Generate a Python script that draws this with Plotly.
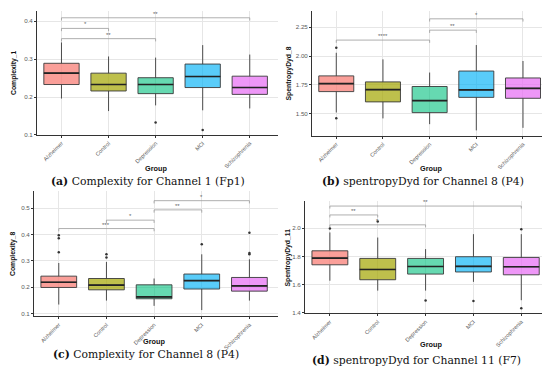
import plotly.graph_objects as go

groups = ["Alzheimer", "Control", "Depression", "MCI", "Schizophrenia"]
fill_colors = ["rgba(248,118,109,0.7)", "rgba(163,165,0,0.7)", "rgba(0,191,125,0.6)",
               "rgba(0,176,246,0.65)", "rgba(231,107,243,0.7)"]

# Panel (a) Complexity_1
a_low = [0.196, 0.163, 0.178, 0.165, 0.170]
a_q1 = [0.233, 0.216, 0.209, 0.225, 0.207]
a_med = [0.263, 0.233, 0.233, 0.254, 0.225]
a_q3 = [0.289, 0.263, 0.251, 0.287, 0.255]
a_high = [0.344, 0.307, 0.304, 0.337, 0.312]
a_out_g = [2, 3]
a_out_v = [0.133, 0.113]
a_br_from = [0, 0, 0]
a_br_to = [1, 2, 4]
a_br_y = [0.381, 0.354, 0.409]
a_br_lab = ["*", "**", "**"]

# Panel (b) spentropyDyd_8
b_low = [1.511, 1.460, 1.410, 1.356, 1.378]
b_q1 = [1.692, 1.603, 1.510, 1.642, 1.634]
b_med = [1.761, 1.709, 1.614, 1.707, 1.720]
b_q3 = [1.828, 1.776, 1.736, 1.870, 1.810]
b_high = [2.028, 1.971, 1.857, 2.095, 1.957]
b_out_g = [0, 0]
b_out_v = [2.072, 1.462]
b_br_from = [0, 2, 2]
b_br_to = [2, 3, 4]
b_br_y = [2.138, 2.224, 2.322]
b_br_lab = ["****", "**", "*"]

# Panel (c) Complexity_8
c_low = [0.134, 0.149, 0.129, 0.113, 0.149]
c_q1 = [0.199, 0.190, 0.156, 0.193, 0.185]
c_med = [0.219, 0.208, 0.163, 0.225, 0.205]
c_q3 = [0.242, 0.233, 0.209, 0.250, 0.237]
c_high = [0.292, 0.296, 0.233, 0.325, 0.306]
c_out_g = [0, 0, 0, 1, 1, 3, 4, 4, 4]
c_out_v = [0.398, 0.386, 0.333, 0.325, 0.313, 0.363, 0.325, 0.330, 0.407]
c_br_from = [0, 1, 2, 2]
c_br_to = [2, 2, 3, 4]
c_br_y = [0.423, 0.455, 0.494, 0.529]
c_br_lab = ["***", "*", "**", "*"]

# Panel (d) spentropyDyd_11
d_low = [1.628, 1.558, 1.558, 1.620, 1.490]
d_q1 = [1.741, 1.635, 1.675, 1.690, 1.670]
d_med = [1.788, 1.708, 1.729, 1.730, 1.727]
d_q3 = [1.840, 1.786, 1.786, 1.798, 1.793]
d_high = [1.970, 1.934, 1.852, 1.958, 1.958]
d_out_g = [0, 1, 2, 3, 4, 4]
d_out_v = [1.998, 2.047, 1.488, 1.484, 1.993, 1.433]
d_br_from = [0, 0, 0]
d_br_to = [1, 2, 4]
d_br_y = [2.094, 2.024, 2.157]
d_br_lab = ["**", "*", "**"]

panels = [
    dict(low=a_low, q1=a_q1, med=a_med, q3=a_q3, high=a_high, og=a_out_g, ov=a_out_v,
         bf=a_br_from, bt=a_br_to, by=a_br_y, bl=a_br_lab,
         ytitle="Complexity_1", yrange=[0.1, 0.427], ytick=[0.1, 0.2, 0.3, 0.4], yfmt=".1f",
         xdom=[29, 270], ydom=[3, 128], ytx=6, gx=148, gy=162,
         cap="(a)", captxt=" Complexity for Channel 1 (Fp1)", capx=140, capy=175),
    dict(low=b_low, q1=b_q1, med=b_med, q3=b_q3, high=b_high, og=b_out_g, ov=b_out_v,
         bf=b_br_from, bt=b_br_to, by=b_br_y, bl=b_br_lab,
         ytitle="SpentropyDyd_8", yrange=[1.308, 2.39], ytick=[1.5, 1.75, 2.0, 2.25], yfmt=".2f",
         xdom=[304, 543], ydom=[3, 129], ytx=281, gx=423, gy=162,
         cap="(b)", captxt=" spentropyDyd for Channel 8 (P4)", capx=415, capy=175),
    dict(low=c_low, q1=c_q1, med=c_med, q3=c_q3, high=c_high, og=c_out_g, ov=c_out_v,
         bf=c_br_from, bt=c_br_to, by=c_br_y, bl=c_br_lab,
         ytitle="Complexity_8", yrange=[0.0887, 0.564], ytick=[0.1, 0.2, 0.3, 0.4, 0.5], yfmt=".1f",
         xdom=[26, 270], ydom=[185, 311], ytx=5, gx=146, gy=336,
         cap="(c)", captxt=" Complexity for Channel 8 (P4)", capx=138, capy=349),
    dict(low=d_low, q1=d_q1, med=d_med, q3=d_q3, high=d_high, og=d_out_g, ov=d_out_v,
         bf=d_br_from, bt=d_br_to, by=d_br_y, bl=d_br_lab,
         ytitle="SpentropyDyd_11", yrange=[1.396, 2.19], ytick=[1.4, 1.6, 1.8, 2.0], yfmt=".1f",
         xdom=[297, 542], ydom=[195, 308], ytx=280, gx=423, gy=339,
         cap="(d)", captxt=" spentropyDyd for Channel 11 (F7)", capx=408, capy=355),
]

W, H = 550, 366
fig = go.Figure()
shapes = []
annotations = []
BW = 0.75
for k, p in enumerate(panels):
    sfx = "" if k == 0 else str(k + 1)
    xa, ya = "x" + sfx, "y" + sfx
    for i, g in enumerate(groups):
        fig.add_trace(go.Box(
            x=[i], q1=[p["q1"][i]], median=[p["med"][i]], q3=[p["q3"][i]],
            lowerfence=[p["low"][i]], upperfence=[p["high"][i]],
            width=BW, whiskerwidth=0, fillcolor=fill_colors[i],
            line=dict(color="#3a3a3a", width=0.9), boxpoints=False,
            name=g, showlegend=False, hoverinfo="skip", xaxis=xa, yaxis=ya))
        fig.add_trace(go.Scatter(
            x=[i - BW / 2, i + BW / 2], y=[p["med"][i], p["med"][i]], mode="lines",
            line=dict(color="#222222", width=1.6), showlegend=False, hoverinfo="skip",
            xaxis=xa, yaxis=ya))
    fig.add_trace(go.Scatter(
        x=p["og"], y=p["ov"], mode="markers",
        marker=dict(color="#333333", size=2.5), showlegend=False, hoverinfo="skip",
        xaxis=xa, yaxis=ya))
    span = p["yrange"][1] - p["yrange"][0]
    tick = span * 0.022
    for f, t, yv, lab in zip(p["bf"], p["bt"], p["by"], p["bl"]):
        for (x0, x1, y0, y1) in [(f, t, yv, yv), (f, f, yv, yv - tick), (t, t, yv, yv - tick)]:
            shapes.append(dict(type="line", xref=xa, yref=ya, x0=x0, x1=x1, y0=y0, y1=y1,
                               line=dict(color="#9a9a9a", width=0.8)))
        annotations.append(dict(x=(f + t) / 2, y=yv, xref=xa, yref=ya, text=lab,
                                showarrow=False, yanchor="bottom", yshift=-1,
                                font=dict(size=6, color="#666666", family="Liberation Sans")))
    axis_common = dict(showline=True, linecolor="#333333", linewidth=0.9,
                       showgrid=True, gridcolor="#e6e6e6", gridwidth=0.8,
                       ticks="outside", ticklen=2, tickcolor="#333333", tickwidth=0.8,
                       zeroline=False)
    fig.layout["xaxis" + sfx] = dict(
        domain=[p["xdom"][0] / W, p["xdom"][1] / W], anchor=ya, range=[-0.52, 4.6],
        tickmode="array", tickvals=list(range(len(groups))), ticktext=groups, tickangle=-45,
        tickfont=dict(size=5.6, color="#5a5a5a", family="Liberation Sans"),
        **axis_common)
    fig.layout["yaxis" + sfx] = dict(
        domain=[1 - p["ydom"][1] / H, 1 - p["ydom"][0] / H], anchor=xa, range=p["yrange"],
        tickmode="array", tickvals=p["ytick"], tickformat=p["yfmt"],
        tickfont=dict(size=6.2, color="#5a5a5a", family="Liberation Sans"), **axis_common)
    annotations.append(dict(x=p["ytx"] / W, y=1 - (p["ydom"][0] + p["ydom"][1]) / 2 / H,
                            xref="paper", yref="paper", text="<b>" + p["ytitle"] + "</b>",
                            textangle=-90, showarrow=False, xanchor="center", yanchor="middle",
                            font=dict(size=6.8, color="#111111", family="Liberation Sans")))
    annotations.append(dict(x=p["gx"] / W, y=1 - p["gy"] / H, xref="paper", yref="paper",
                            text="<b>Group</b>", showarrow=False, xanchor="center", yanchor="middle",
                            font=dict(size=7.3, color="#111111", family="Liberation Sans")))
    annotations.append(dict(x=p["capx"] / W, y=1 - p["capy"] / H, xref="paper", yref="paper",
                            text="<b>" + p["cap"] + "</b>" + p["captxt"], showarrow=False,
                            xanchor="center", yanchor="middle",
                            font=dict(size=10.8, color="#111111", family="DejaVu Serif")))

fig.update_layout(width=W, height=H, autosize=False,
                  margin=dict(l=0, r=0, t=0, b=0),
                  paper_bgcolor="white", plot_bgcolor="white",
                  shapes=shapes, annotations=annotations, showlegend=False)
fig.write_html("out.html")
